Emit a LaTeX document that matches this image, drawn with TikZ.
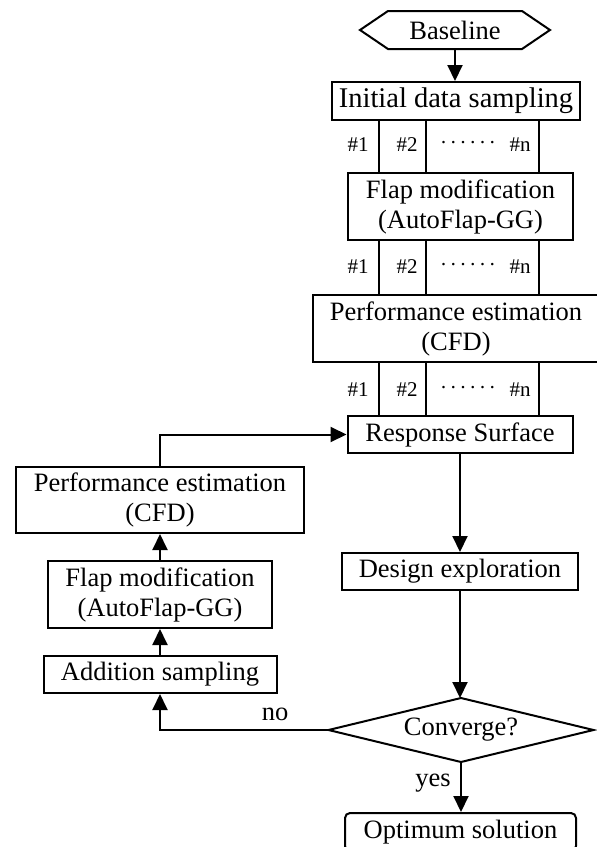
\documentclass[tikz,border=0pt]{standalone}
\usepackage{fontspec}
\setmainfont{Liberation Serif}
\usetikzlibrary{arrows.meta,calc}
\begin{document}
\begin{tikzpicture}[x=1pt,y=-1pt,
  font=\fontsize{26.5}{30}\selectfont,
  line width=2pt,
  box/.style={draw,rectangle,inner sep=0pt,align=center},
  plain/.style={inner sep=0pt,align=center},
  lbl/.style={inner sep=0pt,font=\fontsize{21}{24}\selectfont},
  arr/.style={-{Triangle[length=16pt,width=15pt]}}]
\useasboundingbox (0,0) rectangle (597,847);
% right column
\node[plain,minimum width=188,minimum height=36] (base) at (455,30) {Baseline};
\draw (base.west) -- ($(base.north west)+(28,0)$) -- ($(base.north east)+(-28,0)$) -- (base.east)
  -- ($(base.south east)+(-28,0)$) -- ($(base.south west)+(28,0)$) -- cycle;
\node[box,minimum width=248,minimum height=38,font=\fontsize{28.5}{32}\selectfont] (init) at (456,101) {Initial data sampling};
\node[box,minimum width=225,minimum height=67] (flap1) at (460.5,206.5) {Flap modification\\(AutoFlap-GG)};
\node[box,minimum width=286,minimum height=67] (perf1) at (456,328.5) {Performance estimation\\(CFD)};
\node[box,minimum width=225,minimum height=37] (rs) at (460,434.5) {Response Surface};
\node[box,minimum width=236,minimum height=37] (design) at (460,571.5) {Design exploration};
\node[plain,minimum width=263,minimum height=62] (conv) at (461,730) {Converge?};
\draw (conv.west) -- (conv.north) -- (conv.east) -- (conv.south) -- cycle;
\node[box,rounded corners=5pt,minimum width=231,minimum height=38] (opt) at (460.5,832) {Optimum solution};
% left column
\node[box,minimum width=288,minimum height=66] (perf2) at (160,500) {Performance estimation\\(CFD)};
\node[box,minimum width=224,minimum height=67] (flap2) at (160,594.5) {Flap modification\\(AutoFlap-GG)};
\node[box,minimum width=233,minimum height=37] (add) at (160,674.5) {Addition sampling};
% parallel lines
\coordinate (ca) at (379,0);
\coordinate (cb) at (426,0);
\coordinate (cc) at (539,0);
\foreach \u/\l in {init/flap1,flap1/perf1,perf1/rs}{
  \foreach \c in {ca,cb,cc}{
    \draw (\u.south -| \c) -- (\l.north -| \c);
  }
}
% labels
\foreach \y/\n in {145/a,267/b,390/c}{
  \node[lbl] (h1\n) at (358,\y) {\#1};
  \node[lbl] (h2\n) at (407,\y) {\#2};
  \node[lbl] (hd\n) at (468,\y) {·\kern2.8pt·\kern2.8pt·\kern2.8pt·\kern2.8pt·\kern2.8pt·};
  \node[lbl] (hn\n) at (520,\y) {\#n};
}
% connectors
\draw[arr] (base.south) -- (base.south |- init.north);
\draw[arr] (rs.south) -- (design.north);
\draw[arr] (design.south) -- (design.south |- conv.north);
\draw[arr] (conv.south) -- (conv.south |- opt.north);
\node[plain] (yes) at (433,783) {yes};
\draw[arr] (conv.west) -| (add.south);
\node[plain] (no) at (275,714) {no};
\draw[arr] (add.north) -- (flap2.south);
\draw[arr] (flap2.north) -- (perf2.south);
\draw[arr] (perf2.north) |- (rs.west);
\end{tikzpicture}
\end{document}
